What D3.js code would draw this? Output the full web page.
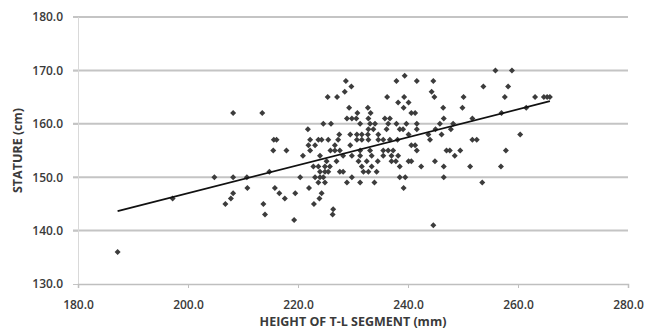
<!DOCTYPE html>
<html><head><meta charset="utf-8">
<script src="https://cdn.jsdelivr.net/npm/d3@7"></script>
<style>body{margin:0;background:#fff}svg{display:block}</style>
</head><body><svg id="c" width="645" height="335"></svg>
<script>
const xTicks = [180, 200, 220, 240, 260, 280];
const yTicks = [130, 140, 150, 160, 170, 180];
const xTitle = "HEIGHT OF T-L SEGMENT (mm)";
const yTitle = "STATURE (cm)";
const heightTL = [
255.9,258.9,
239.4,
228.7,237.9,241.6,244.6,
229.7,253.7,258.2,
228.5,244.3,
225.4,227.1,236.2,239.3,244.8,250.1,257.6,263.1,264.7,265.3,265.8,
238.2,240.1,
229.3,232.7,239.2,246.4,249.9,261.5,
208.2,213.5,230.8,233.2,240.6,241.3,257.0,
228.9,229.8,230.6,232.8,235.8,236.7,246.5,251.7,
224.6,226.0,231.3,233.1,234.0,236.4,237.9,239.7,241.6,245.8,248.2,
221.8,232.8,233.7,236.1,238.5,239.1,241.6,245.0,247.8,
227.5,229.5,230.7,231.6,232.7,234.6,240.1,243.7,246.1,260.4,
215.6,216.1,222.2,223.7,224.3,225.5,227.3,230.7,231.6,232.8,234.6,235.5,236.7,238.1,244.0,251.7,252.5,
221.9,223.1,226.7,229.5,240.6,241.3,
215.5,217.9,222.2,225.9,226.7,227.6,231.3,233.1,235.5,236.4,237.3,241.6,247.0,247.6,249.5,257.8,
220.9,224.0,228.2,229.8,231.3,233.4,235.5,237.0,238.2,248.5,
225.2,227.0,231.0,232.5,234.5,237.0,237.8,240.1,240.6,244.9,
222.8,223.7,224.9,225.8,231.6,233.4,238.5,242.4,246.5,251.3,256.9,
214.8,224.0,224.9,225.5,227.6,228.2,231.9,232.8,234.3,
204.8,208.2,210.7,220.4,223.1,224.0,224.6,229.8,238.5,239.5,246.5,
223.7,224.9,228.9,231.3,233.9,253.5,
210.8,215.8,222.0,239.2,
208.2,216.6,219.5,224.3,
197.2,207.8,217.6,223.9,
206.8,213.7,222.9,
226.4,
214.0,226.3,
219.3,
244.6,
187.2
];
const stature = [
170,170,
169,
168,168,168,168,
167,167,167,
166,166,
165,165,165,165,165,165,165,165,165,165,165,
164,164,
163,163,163,163,163,163,
162,162,162,162,162,162,162,
161,161,161,161,161,161,161,161,
160,160,160,160,160,160,160,160,160,160,160,
159,159,159,159,159,159,159,159,159,
158,158,158,158,158,158,158,158,158,158,
157,157,157,157,157,157,157,157,157,157,157,157,157,157,157,157,157,
156,156,156,156,156,156,
155,155,155,155,155,155,155,155,155,155,155,155,155,155,155,155,
154,154,154,154,154,154,154,154,154,154,
153,153,153,153,153,153,153,153,153,153,
152,152,152,152,152,152,152,152,152,152,152,
151,151,151,151,151,151,151,151,151,
150,150,150,150,150,150,150,150,150,150,150,
149,149,149,149,149,149,
148,148,148,148,
147,147,147,147,
146,146,146,146,
145,145,145,
144,
143,143,
142,
141,
136
];
const trendSlope = 0.262;
const trendIntercept = 94.6;

const W = 645, H = 335;
const m = {left: 78, right: 17, top: 17, bottom: 51};
const svg = d3.select("#c");
const x = d3.scaleLinear().domain([180, 280]).range([m.left, W - m.right]);
const y = d3.scaleLinear().domain([130, 180]).range([H - m.bottom, m.top]);
const fmt = d3.format(".1f");
const font = "'Open Sans', 'Liberation Sans', sans-serif";

// gridlines
svg.append("g")
  .selectAll("line").data(yTicks.filter(d => d !== 130)).join("line")
  .attr("x1", m.left - 5).attr("x2", W - m.right)
  .attr("y1", d => y(d)).attr("y2", d => y(d))
  .attr("stroke", "#c4c4c4").attr("stroke-width", 2);

// y axis
const yAxis = svg.append("g").attr("transform", `translate(${m.left},0)`)
  .call(d3.axisLeft(y).tickValues(yTicks).tickFormat(fmt).tickSize(5).tickPadding(10));
yAxis.select(".domain").attr("stroke", "#d9d9d9");
yAxis.selectAll(".tick line").attr("stroke", "#c4c4c4");
yAxis.selectAll("text").attr("fill", "#3a3a3a").style("font-family", font)
  .style("font-size", "12px").style("font-weight", 600);

// x axis
const xAxis = svg.append("g").attr("transform", `translate(0,${H - m.bottom})`)
  .call(d3.axisBottom(x).tickValues(xTicks).tickFormat(fmt).tickSize(4).tickPadding(12));
xAxis.select(".domain").attr("stroke", "#bfbfbf").attr("stroke-width", 1.5);
xAxis.selectAll(".tick line").attr("stroke", "#bfbfbf");
xAxis.selectAll("text").attr("fill", "#3a3a3a").style("font-family", font)
  .style("font-size", "12px").style("font-weight", 600);

// points
const pts = heightTL.map((v, i) => ({h: v, s: stature[i]}));
svg.append("g").selectAll("path").data(pts).join("path")
  .attr("d", d3.symbol(d3.symbolSquare, 18)())
  .attr("transform", d => `translate(${x(d.h)},${y(d.s)}) rotate(45)`)
  .attr("fill", "#3c3c3c");

// trendline
const [hMin, hMax] = d3.extent(heightTL);
svg.append("line")
  .attr("x1", x(hMin)).attr("y1", y(trendIntercept + trendSlope * hMin))
  .attr("x2", x(hMax)).attr("y2", y(trendIntercept + trendSlope * hMax))
  .attr("stroke", "#111").attr("stroke-width", 1.8);

// titles
svg.append("text").attr("x", (m.left + W - m.right) / 2).attr("y", 326)
  .attr("text-anchor", "middle").attr("fill", "#3a3a3a")
  .style("font-family", font).style("font-size", "12.5px").style("font-weight", 700)
  .text(xTitle);
svg.append("text").attr("transform", `translate(22,${(m.top + H - m.bottom) / 2}) rotate(-90)`)
  .attr("text-anchor", "middle").attr("fill", "#3a3a3a")
  .style("font-family", font).style("font-size", "12.5px").style("font-weight", 700)
  .text(yTitle);
</script>
</body></html>
